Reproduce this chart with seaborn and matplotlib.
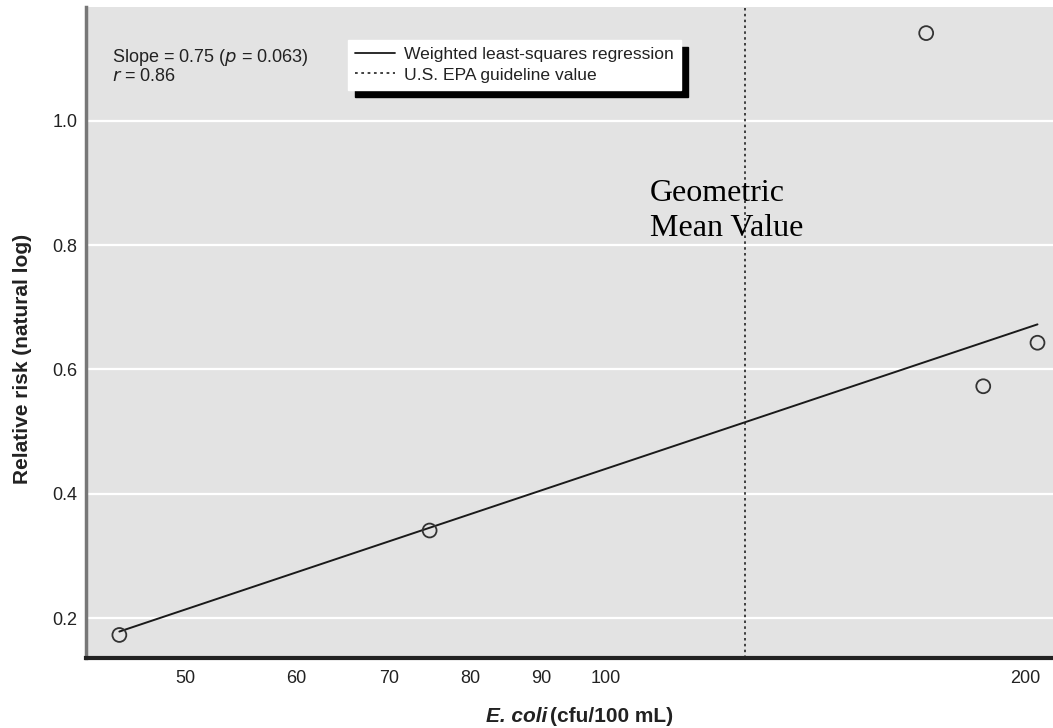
import numpy as np
import pandas as pd
import matplotlib
matplotlib.use("Agg")
import matplotlib.pyplot as plt
import seaborn as sns
from matplotlib.lines import Line2D
from matplotlib.ticker import FixedLocator, FixedFormatter, NullLocator

# ---- data ----
ecoli = [44.8, 74.8, 169.9, 186.7, 204.2]          # cfu/100 mL
rel_risk = [0.173, 0.341, 1.141, 0.573, 0.643]      # natural log of relative risk
slope = 0.75
intercept = -1.06
epa_guideline = 126
x_ticks = [50, 60, 70, 80, 90, 100, 200]
y_ticks = [0.2, 0.4, 0.6, 0.8, 1.0]

sns.set_theme(style="white")
cond = ["Liberation Sans Narrow", "Liberation Sans", "DejaVu Sans"]
plt.rcParams["font.family"] = cond

fig = plt.figure(figsize=(10.53, 7.28), dpi=100)
ax = fig.add_axes([0.0817, 0.0962, 0.9183, 0.8942])
ax.set_facecolor("#e3e3e3")

df = pd.DataFrame({"ecoli": ecoli, "rr": rel_risk})
xs = np.geomspace(min(ecoli), max(ecoli), 60)
line_df = pd.DataFrame({"x": xs, "y": intercept + slope * np.log10(xs)})

for yt in y_ticks:
    ax.axhline(yt, color="white", lw=1.6, zorder=0.5)

sns.lineplot(data=line_df, x="x", y="y", ax=ax, color="#1a1a1a", lw=1.4, zorder=2)
ax.axvline(epa_guideline, color="#222222", lw=1.2, ls=(0, (1.5, 2)), zorder=2)
sns.scatterplot(data=df, x="ecoli", y="rr", ax=ax, s=100, facecolor="none",
                edgecolor="#333333", linewidth=1.3, zorder=3)

ax.set_xscale("log")
ax.set_xlim(42.4, 209.5)
ax.set_ylim(0.136, 1.183)
ax.xaxis.set_major_locator(FixedLocator(x_ticks))
ax.xaxis.set_major_formatter(FixedFormatter([str(t) for t in x_ticks]))
ax.xaxis.set_minor_locator(NullLocator())
ax.yaxis.set_major_locator(FixedLocator(y_ticks))
ax.yaxis.set_major_formatter(FixedFormatter([f"{t:.1f}" for t in y_ticks]))
ax.tick_params(axis="both", length=0, labelsize=13, colors="#222222")
ax.tick_params(axis="x", pad=9)
ax.tick_params(axis="y", pad=6)

for s in ["top", "right"]:
    ax.spines[s].set_visible(False)
ax.spines["bottom"].set_color("#222222")
ax.spines["bottom"].set_linewidth(3)
ax.spines["left"].set_color("#777777")
ax.spines["left"].set_linewidth(2.5)

ax.set_xlabel("")
ax.set_ylabel("Relative risk (natural log)", fontsize=15, fontweight="bold",
              color="#222222")
ax.yaxis.set_label_coords(-0.056, 0.46)

fig.text(0.5195, 0.016, "E. coli", ha="right", va="center", fontsize=15,
         fontweight="bold", style="italic", color="#222222")
fig.text(0.5225, 0.016, "(cfu/100 mL)", ha="left", va="center", fontsize=15,
         fontweight="bold", color="#222222")

ax.text(0.027, 0.938, "Slope = 0.75 ($p$ = 0.063)\n$r$ = 0.86", transform=ax.transAxes,
        ha="left", va="top", fontsize=13, color="#222222", linespacing=0.95)

ax.text(0.583, 0.736, "Geometric\nMean Value", transform=ax.transAxes,
        ha="left", va="top", fontsize=23, family="Liberation Serif",
        color="black", linespacing=1.28)

handles = [Line2D([], [], color="#1a1a1a", lw=1.3),
           Line2D([], [], color="#333333", lw=1.3, ls=(0, (1.5, 2)))]
leg = ax.legend(handles, ["Weighted least-squares regression", "U.S. EPA guideline value"],
                loc="upper left", bbox_to_anchor=(0.2705, 0.949), fontsize=12.6,
                frameon=True, fancybox=False, framealpha=1, edgecolor="white",
                facecolor="white", handlelength=2.3, handletextpad=0.55,
                borderpad=0.4, labelspacing=0.28, borderaxespad=0,
                shadow={"color": "black", "alpha": 1, "ox": 5, "oy": -5})
for t in leg.get_texts():
    t.set_color("#222222")

fig.savefig("out.png", dpi=100)
